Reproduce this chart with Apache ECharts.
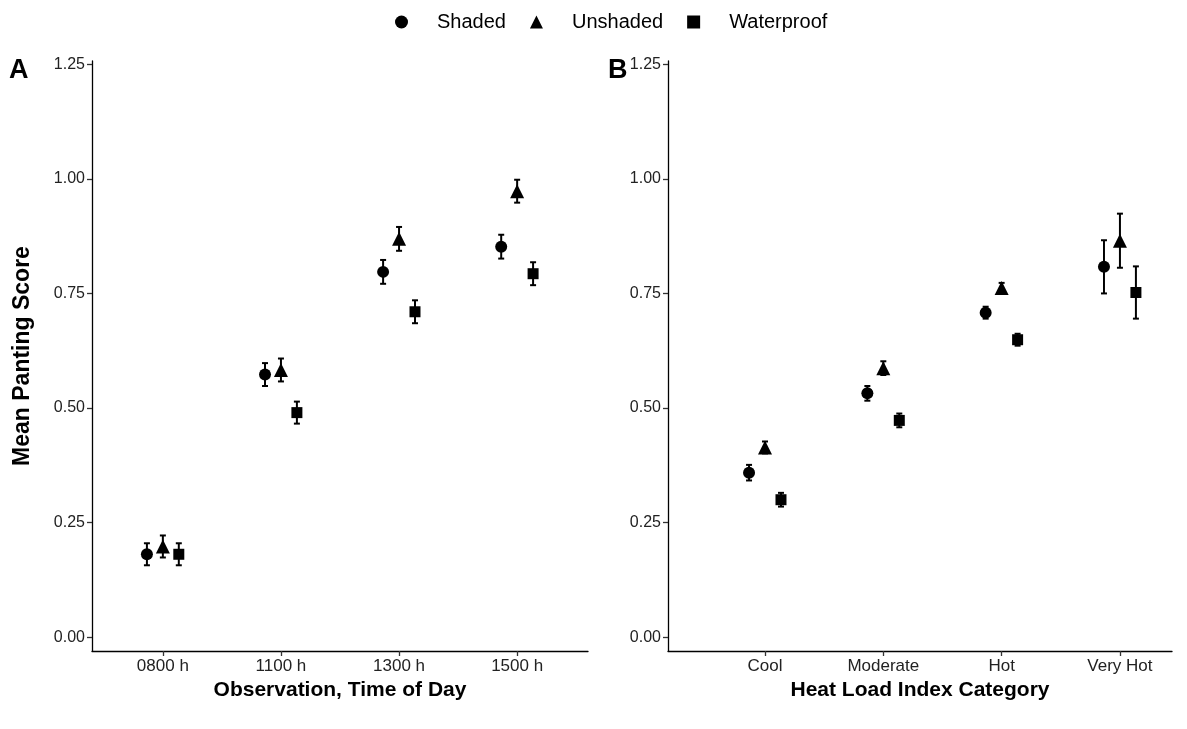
<!DOCTYPE html>
<html>
<head>
<meta charset="utf-8">
<script src="https://cdn.jsdelivr.net/npm/echarts@6/dist/echarts.min.js"></script>
<style>
html,body{margin:0;padding:0;background:#fff;}
#chart{width:1187px;height:729px;}
</style>
</head>
<body>
<div id="chart"></div>
<script>
// ---- data ----
const timeCats = ['0800 h', '1100 h', '1300 h', '1500 h'];
const hliCats = ['Cool', 'Moderate', 'Hot', 'Very Hot'];
const groups = ['Shaded', 'Unshaded', 'Waterproof'];
const yTicks = [0, 0.25, 0.5, 0.75, 1.0, 1.25];

const A_shaded = [0.181, 0.573, 0.797, 0.852];
const A_shadedSE = [0.024, 0.025, 0.026, 0.026];
const A_unshaded = [0.198, 0.583, 0.869, 0.973];
const A_unshadedSE = [0.024, 0.025, 0.026, 0.025];
const A_waterproof = [0.181, 0.490, 0.710, 0.793];
const A_waterproofSE = [0.024, 0.024, 0.025, 0.025];

const B_shaded = [0.359, 0.532, 0.708, 0.808];
const B_shadedSE = [0.017, 0.016, 0.013, 0.058];
const B_unshaded = [0.414, 0.587, 0.762, 0.865];
const B_unshadedSE = [0.013, 0.015, 0.011, 0.059];
const B_waterproof = [0.300, 0.473, 0.649, 0.752];
const B_waterproofSE = [0.015, 0.015, 0.013, 0.057];

// ---- build ----
const FONT = '"Liberation Sans", Arial, sans-serif';
const dodge = [-0.135, 0, 0.135];
const symbols = ['circle', 'triangle', 'rect'];
const symSizes = [12, 14, 11];

const panelA = [[A_shaded, A_shadedSE], [A_unshaded, A_unshadedSE], [A_waterproof, A_waterproofSE]];
const panelB = [[B_shaded, B_shadedSE], [B_unshaded, B_unshadedSE], [B_waterproof, B_waterproofSE]];

function errRender(params, api) {
  const x = api.value(0);
  const lo = api.coord([x, api.value(1)]);
  const hi = api.coord([x, api.value(2)]);
  const cw = 3;
  const st = { stroke: '#000', lineWidth: 2 };
  return {
    type: 'group',
    children: [
      { type: 'line', shape: { x1: lo[0], y1: lo[1], x2: hi[0], y2: hi[1] }, style: st },
      { type: 'line', shape: { x1: lo[0] - cw, y1: lo[1], x2: lo[0] + cw, y2: lo[1] }, style: st },
      { type: 'line', shape: { x1: hi[0] - cw, y1: hi[1], x2: hi[0] + cw, y2: hi[1] }, style: st }
    ]
  };
}

const series = [];
[panelA, panelB].forEach(function (panel, pi) {
  panel.forEach(function (g, gi) {
    const means = g[0], se = g[1];
    series.push({
      type: 'custom',
      xAxisIndex: pi, yAxisIndex: pi,
      renderItem: errRender,
      silent: true,
      z: 2,
      data: means.map(function (m, i) { return [i + 1 + dodge[gi], m - se[i], m + se[i]]; })
    });
    series.push({
      name: groups[gi],
      type: 'scatter',
      xAxisIndex: pi, yAxisIndex: pi,
      symbol: symbols[gi],
      symbolSize: symSizes[gi],
      itemStyle: { color: '#000', opacity: 1 },
      z: 3,
      data: means.map(function (m, i) { return [i + 1 + dodge[gi], m]; })
    });
  });
});

function xAxisCfg(gi, cats, name, min, max) {
  return {
    type: 'value', gridIndex: gi, min: min, max: max,
    name: name, nameLocation: 'middle', nameGap: 28,
    nameTextStyle: { fontFamily: FONT, fontSize: 21, fontWeight: 'bold', color: '#000' },
    axisLine: { onZero: false, lineStyle: { color: '#000', width: 1.3 } },
    axisTick: { show: true, length: 5, customValues: [1, 2, 3, 4], lineStyle: { color: '#333', width: 1.3 } },
    axisLabel: {
      customValues: [1, 2, 3, 4], margin: 7,
      fontFamily: FONT, fontSize: 17, color: '#222',
      formatter: function (v) { return cats[Math.round(v) - 1]; }
    },
    splitLine: { show: false }
  };
}
function yAxisCfg(gi, withName) {
  return {
    type: 'value', gridIndex: gi, min: -0.03, max: 1.257,
    name: withName ? 'Mean Panting Score' : '', nameLocation: 'middle', nameGap: 58, nameRotate: 90,
    nameTextStyle: { fontFamily: FONT, fontSize: 23, fontWeight: 'bold', color: '#000' },
    axisLine: { onZero: false, lineStyle: { color: '#000', width: 1.3 } },
    axisTick: { show: true, length: 5, customValues: yTicks, lineStyle: { color: '#333', width: 1.3 } },
    axisLabel: {
      customValues: yTicks, margin: 7,
      fontFamily: FONT, fontSize: 16, color: '#222',
      formatter: function (v) { return v.toFixed(2); }
    },
    splitLine: { show: false }
  };
}

const option = {
  backgroundColor: '#fff',
  animation: false,
  textStyle: { fontFamily: FONT },
  legend: {
    top: 7, left: 390,
    data: groups,
    itemWidth: 13, itemHeight: 13, itemGap: 24,
    textStyle: { fontFamily: FONT, fontSize: 20, color: '#000', padding: [0, 0, 0, 24] }
  },
  grid: [
    { left: 92, top: 61, width: 496, height: 590 },
    { left: 668, top: 61, width: 504, height: 590 }
  ],
  xAxis: [
    xAxisCfg(0, timeCats, 'Observation, Time of Day', 0.4, 4.6),
    xAxisCfg(1, hliCats, 'Heat Load Index Category', 0.18, 4.44)
  ],
  yAxis: [yAxisCfg(0, true), yAxisCfg(1, false)],
  graphic: [
    { type: 'text', left: 9, top: 57, style: { text: 'A', font: 'bold 27px ' + FONT, fill: '#000' } },
    { type: 'text', left: 608, top: 57, style: { text: 'B', font: 'bold 27px ' + FONT, fill: '#000' } }
  ],
  series: series
};

const chart = echarts.init(document.getElementById('chart'), null, { renderer: 'canvas' });
chart.setOption(option);
</script>
</body>
</html>
